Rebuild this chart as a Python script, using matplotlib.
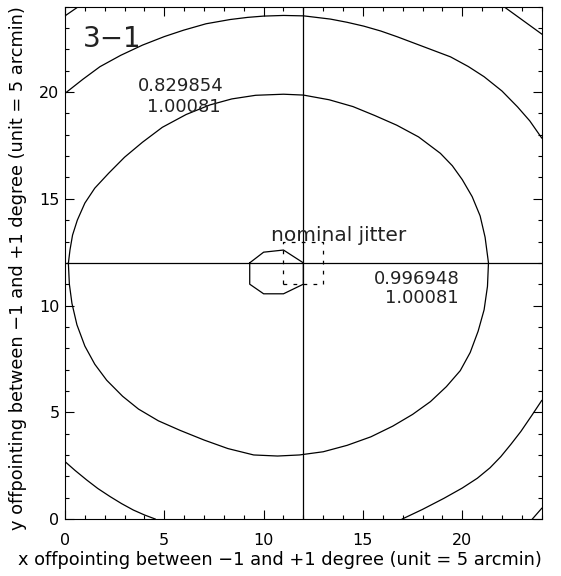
import matplotlib
matplotlib.use('Agg')
import matplotlib.pyplot as plt

# contour pieces (data units, 1 unit = 5 arcmin)
inner_x = [0.17, 0.25, 0.38, 0.62, 1.0, 1.5, 2.2, 3.0, 3.9, 4.9, 6.1, 7.3, 8.4, 9.6, 11.0, 12.0,
           13.3, 14.5, 15.6, 16.7, 17.8, 18.9, 19.5, 20.0, 20.5, 20.9, 21.15, 21.32, 21.27, 21.1,
           20.8, 20.4, 19.9, 19.2, 18.4, 17.5, 16.5, 15.4, 14.2, 13.0, 11.8, 10.7, 9.5, 8.2,
           7.0, 5.8, 4.7, 3.7, 2.9, 2.1, 1.5, 1.0, 0.6, 0.35, 0.22, 0.17]
inner_y = [11.98, 12.6, 13.3, 14.0, 14.8, 15.5, 16.2, 16.95, 17.65, 18.35, 18.95, 19.4, 19.68, 19.85, 19.9, 19.86,
           19.64, 19.32, 18.9, 18.45, 17.9, 17.13, 16.55, 15.9, 15.1, 14.2, 13.2, 12.0, 10.9, 9.8,
           8.8, 7.8, 6.95, 6.2, 5.5, 4.9, 4.35, 3.85, 3.45, 3.15, 3.0, 2.95, 3.0, 3.3,
           3.7, 4.15, 4.6, 5.15, 5.75, 6.5, 7.25, 8.1, 9.1, 10.1, 11.0, 11.98]

outer_top_x = [0.0, 0.9, 1.76, 2.8, 3.9, 5.0, 5.97, 7.1, 8.32, 9.2, 10.0, 11.0, 12.02, 13.36, 14.2,
               15.04, 15.9, 16.73, 18.07, 19.41, 20.3, 21.1, 22.0, 22.78, 23.4, 24.0]
outer_top_y = [19.94, 20.6, 21.19, 21.72, 22.2, 22.6, 22.9, 23.2, 23.4, 23.5, 23.56, 23.59, 23.57, 23.42, 23.27,
               23.09, 22.86, 22.59, 22.12, 21.65, 21.2, 20.72, 20.05, 19.31, 18.65, 17.85]
outer_bl_x = [0.0, 0.5, 1.09, 1.65, 2.27, 2.85, 3.44, 4.0, 4.54]
outer_bl_y = [2.69, 2.28, 1.83, 1.43, 1.05, 0.72, 0.42, 0.19, 0.0]
outer_br_x = [16.98, 18.0, 19.08, 20.0, 20.76, 21.4, 21.94, 22.45, 22.95, 23.5, 24.0]
outer_br_y = [0.0, 0.45, 0.97, 1.45, 1.91, 2.4, 2.92, 3.5, 4.1, 4.85, 5.55]

corner_tl_x = [0.0, 0.67]
corner_tl_y = [23.57, 24.0]
corner_tr_x = [22.1, 24.0]
corner_tr_y = [24.0, 22.72]
corner_br_x = [23.53, 24.0]
corner_br_y = [0.0, 0.5]

# innermost contour (octagon)
core_x = [9.3, 10.0, 11.0, 12.0, 12.0, 11.0, 10.0, 9.3, 9.3]
core_y = [12.0, 12.5, 12.6, 12.0, 11.0, 10.55, 10.55, 11.0, 12.0]

# nominal jitter box
jitter_x = [11, 13, 13, 11, 11]
jitter_y = [11, 11, 13, 13, 11]

nominal = (12, 12)

labels = [
    ('0.829854', 5.85, 20.28),
    ('1.00081', 5.96, 19.28),
    ('0.996948', 17.73, 11.22),
    ('1.00081', 17.98, 10.36),
]

fig = plt.figure(figsize=(5.61, 5.76), dpi=100)
ax = fig.add_axes([65 / 561, 57 / 576, 476.7 / 561, 512.3 / 576])

lw = 0.9
for xs, ys in [(inner_x, inner_y), (outer_top_x, outer_top_y), (outer_bl_x, outer_bl_y),
               (outer_br_x, outer_br_y), (corner_tl_x, corner_tl_y), (corner_tr_x, corner_tr_y),
               (corner_br_x, corner_br_y), (core_x, core_y)]:
    ax.plot(xs, ys, color='black', lw=lw)

ax.plot(jitter_x, jitter_y, color='black', lw=lw, linestyle=(0, (3, 5)))
ax.axvline(nominal[0], color='black', lw=lw)
ax.axhline(nominal[1], color='black', lw=lw)

for txt, x, y in labels:
    ax.text(x, y, txt, fontsize=13, ha='center', va='center', color='#222222')
ax.text(13.78, 13.02, 'nominal jitter', fontsize=14.5, ha='center', va='baseline', color='#222222')
ax.text(2.39, 22.49, '3\u22121', fontsize=20, ha='center', va='center', color='#222222')

ax.set_xlim(0, 24)
ax.set_ylim(0, 24)
ax.set_xticks([0, 5, 10, 15, 20])
ax.set_yticks([0, 5, 10, 15, 20])
ax.set_xticks(range(0, 25), minor=True)
ax.set_yticks(range(0, 25), minor=True)
ax.tick_params(which='both', direction='in', top=True, right=True, width=0.8, labelsize=11.5)
ax.tick_params(which='major', length=6.8)
ax.tick_params(which='minor', length=3.2)
ax.tick_params(axis='x', pad=10)
ax.tick_params(axis='y', pad=4)
for s in ax.spines.values():
    s.set_linewidth(0.8)

ax.set_xlabel('x offpointing between \u22121 and +1 degree (unit = 5 arcmin)', fontsize=12.8, va='center')
ax.xaxis.set_label_coords(0.451, -0.080)
ax.set_ylabel('y offpointing between \u22121 and +1 degree (unit = 5 arcmin)', fontsize=12.8, va='center')
ax.yaxis.set_label_coords(-0.0986, 0.49)

fig.savefig('out.png', dpi=100)
